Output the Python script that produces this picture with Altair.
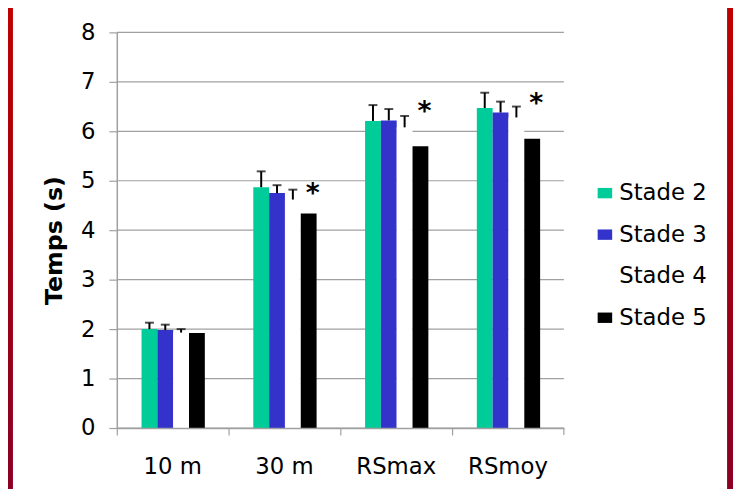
import altair as alt
import pandas as pd

categories = ["10 m", "30 m", "RSmax", "RSmoy"]
stades = ["Stade 2", "Stade 3", "Stade 4", "Stade 5"]
colors = ["#00CC99", "#3333CC", "#FFFFFF", "#000000"]

stade2 = [2.00, 4.87, 6.21, 6.47]
stade2_err = [0.13, 0.32, 0.32, 0.31]
stade3 = [1.98, 4.75, 6.22, 6.38]
stade3_err = [0.11, 0.16, 0.23, 0.22]
stade4 = [1.93, 4.62, 6.08, 6.28]
stade4_err = [0.07, 0.20, 0.23, 0.22]
stade5 = [1.92, 4.34, 5.70, 5.85]
stade5_err = [None, None, None, None]

sig_categories = ["30 m", "RSmax", "RSmoy"]
sig_stade = ["Stade 5", "Stade 5", "Stade 5"]
sig_y = [4.83, 6.48, 6.66]

y_ticks = [0, 1, 2, 3, 4, 5, 6, 7, 8]

FONT = "DejaVu Sans"
GRAY = "#A0A0A0"

rows = []
for s, vals, errs in [
    ("Stade 2", stade2, stade2_err),
    ("Stade 3", stade3, stade3_err),
    ("Stade 4", stade4, stade4_err),
    ("Stade 5", stade5, stade5_err),
]:
    for c, v, e in zip(categories, vals, errs):
        rows.append({"cat": c, "stade": s, "val": v,
                     "hi": (v + e) if e is not None else None})
df = pd.DataFrame(rows)
err_df = df.dropna(subset=["hi"])
sig_df = pd.DataFrame({"cat": sig_categories, "stade": sig_stade, "sy": sig_y})
grid_df = pd.DataFrame({"t": y_ticks})

W, H = 452, 400
PAD_L, PAD_T, PAD_R, PAD_B = 110, 22, 171, 59

x_enc = alt.X("cat:N", sort=categories,
              scale=alt.Scale(domain=categories, paddingInner=0, paddingOuter=0),
              axis=alt.Axis(title=None, labelAngle=0, bandPosition=0, ticks=True,
                            tickSize=7, tickColor=GRAY, domainColor=GRAY,
                            tickWidth=1.2, domainWidth=1.5, zindex=1,
                            labelFont=FONT, labelFontSize=23, labelColor="#000000",
                            labelPadding=21, grid=False))
xo_enc = alt.XOffset("stade:N", sort=stades,
                     scale=alt.Scale(domain=stades, paddingInner=0, paddingOuter=0,
                                     range=[25, 89]))
y_scale = alt.Scale(domain=[0, 8], nice=False, zero=True)

bg = alt.Chart(pd.DataFrame({"a": [0]})).mark_rect(
    color=alt.LinearGradient(
        gradient="linear",
        stops=[alt.GradientStop(color="#C00000", offset=0),
               alt.GradientStop(color="#A00010", offset=0.5),
               alt.GradientStop(color="#8A0024", offset=1)],
        x1=0, x2=0, y1=0, y2=1)
).encode(x=alt.value(-PAD_L), x2=alt.value(W + PAD_R),
         y=alt.value(-PAD_T - 4), y2=alt.value(H + PAD_B + 4))

panel = alt.Chart(pd.DataFrame({"a": [0]})).mark_rect(color="white").encode(
    x=alt.value(-PAD_L + 5), x2=alt.value(W + PAD_R - 6),
    y=alt.value(-PAD_T - 6), y2=alt.value(H + PAD_B + 6))

grid = alt.Chart(grid_df).mark_rule(color=GRAY, strokeWidth=1.2).encode(
    x=alt.value(0), x2=alt.value(W), y=alt.Y("t:Q", scale=y_scale))

bars = alt.Chart(df).mark_bar(strokeWidth=0).encode(
    x=x_enc,
    xOffset=xo_enc,
    y=alt.Y("val:Q", scale=y_scale,
            axis=alt.Axis(values=y_ticks, title="Temps (s)", grid=False, zindex=1,
                          domainColor=GRAY, domainWidth=1.5,
                          tickColor=GRAY, tickSize=8, tickWidth=1.2,
                          labelFont=FONT, labelFontSize=23, labelColor="#000000",
                          labelPadding=14,
                          titleFont=FONT, titleFontSize=24, titleFontWeight="bold",
                          titleColor="#000000", titleX=-63, titleY=210,
                          titleAngle=270, titleBaseline="middle", titleAlign="center")),
    color=alt.Color("stade:N", sort=stades,
                    scale=alt.Scale(domain=stades, range=colors),
                    legend=alt.Legend(title=None, orient="none", legendX=482, legendY=151,
                                      symbolType="M-1.4,-1H1.4V1H-1.4Z",
                                      symbolSize=110, symbolStrokeWidth=0,
                                      labelFont=FONT, labelFontSize=23,
                                      labelColor="#000000", labelOffset=3,
                                      rowPadding=18, padding=0)),
)

stems = alt.Chart(err_df).mark_rule(color="black", strokeWidth=2).encode(
    x=alt.X("cat:N", sort=categories), xOffset=alt.XOffset("stade:N", sort=stades),
    y=alt.Y("val:Q", scale=y_scale), y2="hi:Q")

caps = alt.Chart(err_df).mark_tick(color="black", orient="horizontal",
                                   size=9, thickness=2).encode(
    x=alt.X("cat:N", sort=categories), xOffset=alt.XOffset("stade:N", sort=stades),
    y=alt.Y("hi:Q", scale=y_scale))

stars = alt.Chart(sig_df).mark_text(text="*", font=FONT, fontSize=27,
                                    fontWeight="bold", color="black",
                                    baseline="middle", dy=5, dx=4).encode(
    x=alt.X("cat:N", sort=categories), xOffset=alt.XOffset("stade:N", sort=stades),
    y=alt.Y("sy:Q", scale=y_scale))

end_tick = alt.Chart(pd.DataFrame({"a": [0]})).mark_rule(
    color=GRAY, strokeWidth=1.2).encode(
    x=alt.value(W), y=alt.value(H), y2=alt.value(H + 7))

chart = alt.layer(bg, panel, grid, bars, stems, caps, stars, end_tick).properties(
    width=W, height=H,
    autosize=alt.AutoSizeParams(type="none"),
    padding={"left": PAD_L, "top": PAD_T, "right": PAD_R, "bottom": PAD_B},
).configure_view(stroke=None)

chart.save("out.html", embed_options={"renderer": "svg", "actions": False})
